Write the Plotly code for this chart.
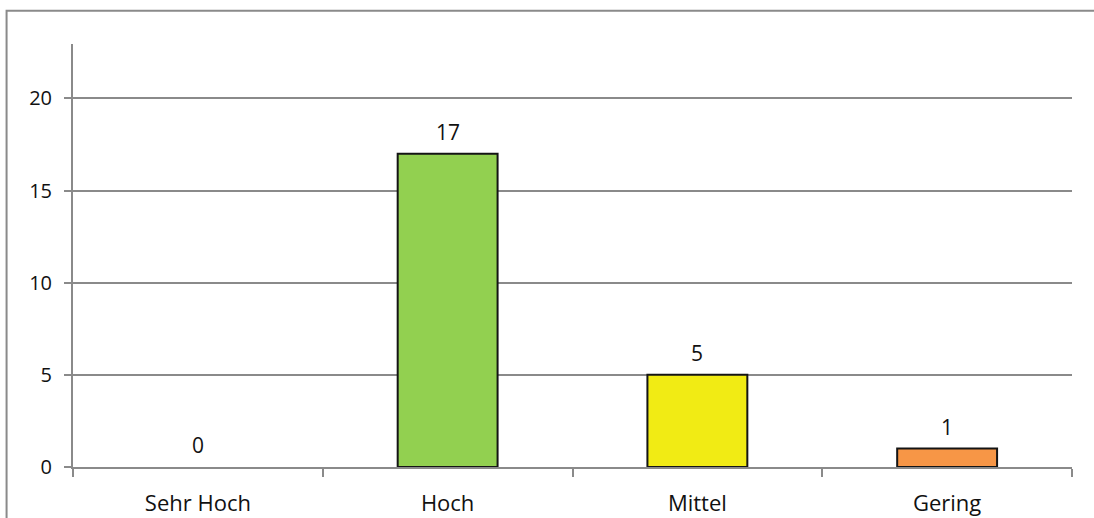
import plotly.graph_objects as go

categories = ["Sehr Hoch", "Hoch", "Mittel", "Gering"]
counts = [0, 17, 5, 1]
bar_colors = ["#92D050", "#92D050", "#F1EB14", "#F79646"]
y_ticks = [0, 5, 10, 15, 20]

FONT = "Open Sans"
AXIS_GRAY = "#8a8a8a"
TEXT = "#111111"

# no outline for empty bars so nothing is drawn on the baseline
outline_widths = [2 if v > 0 else 0 for v in counts]

fig = go.Figure(
    go.Bar(
        x=categories,
        y=counts,
        marker=dict(color=bar_colors, line=dict(color="#141414", width=outline_widths)),
        width=0.4,
        hoverinfo="x+y",
    )
)

# value labels centred a fixed distance above each bar
for cat, val in zip(categories, counts):
    fig.add_annotation(
        x=cat, y=val, text=str(val), showarrow=False,
        yanchor="middle", yshift=22,
        font=dict(family=FONT, size=21, color=TEXT),
    )

# outer chart frame (left and top edges)
fig.add_shape(
    type="path", xref="paper", yref="paper",
    path="M -0.0665,-0.2 L -0.0665,1.0785 L 1.05,1.0785",
    line=dict(color=AXIS_GRAY, width=2),
)

fig.update_layout(
    width=1094, height=518,
    margin=dict(l=73, r=22, t=44, b=51),
    paper_bgcolor="white", plot_bgcolor="white",
    showlegend=False,
    font=dict(family=FONT, color=TEXT),
    xaxis=dict(
        type="category",
        automargin=False,
        showline=True, linecolor=AXIS_GRAY, linewidth=2,
        ticks="outside", tickson="boundaries", ticklen=8,
        tickcolor=AXIS_GRAY, tickwidth=2,
        showgrid=False,
        tickfont=dict(family=FONT, size=22, color=TEXT),
        ticklabelstandoff=16,
    ),
    yaxis=dict(
        range=[0, 22.95],
        tickvals=y_ticks,
        automargin=False,
        showline=True, linecolor=AXIS_GRAY, linewidth=2,
        ticks="outside", ticklen=7, tickcolor=AXIS_GRAY, tickwidth=2,
        showgrid=True, gridcolor=AXIS_GRAY, gridwidth=1.7,
        zeroline=False,
        tickfont=dict(family=FONT, size=20, color=TEXT),
        ticklabelstandoff=8,
    ),
)

fig.write_html("out.html")
